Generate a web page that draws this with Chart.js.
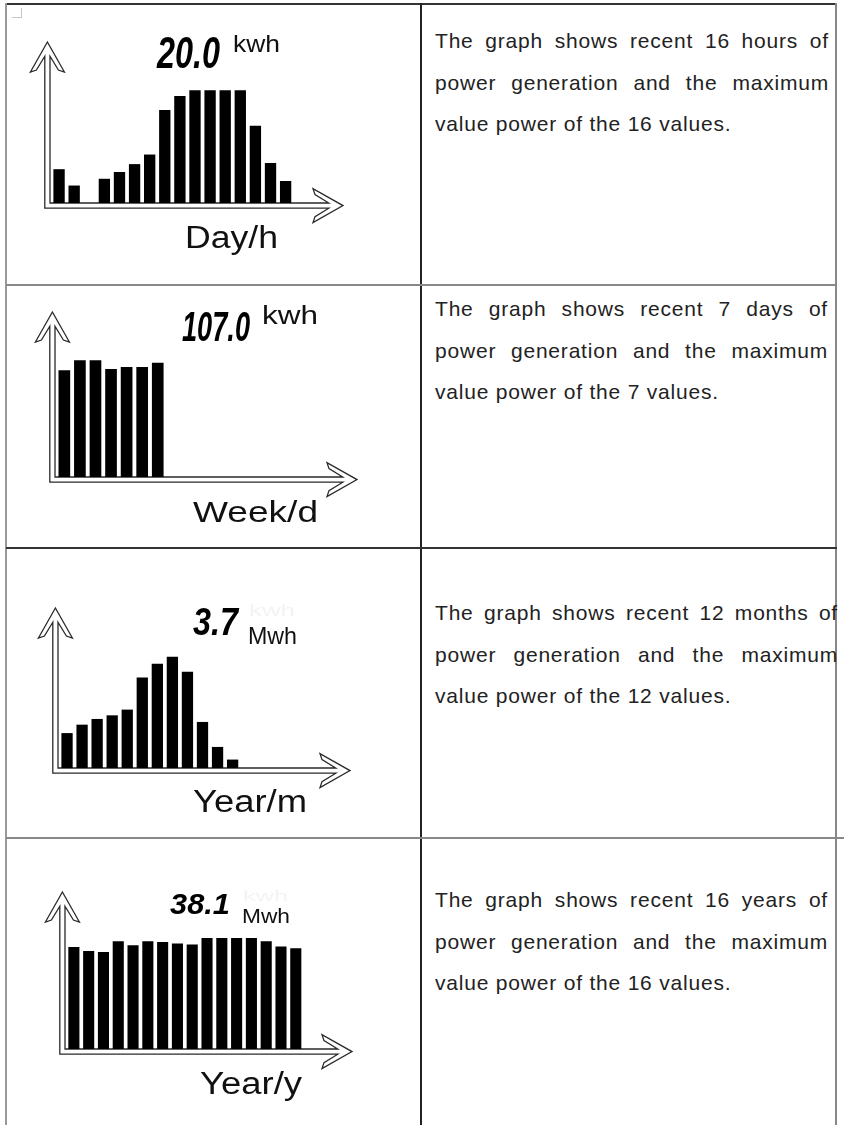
<!DOCTYPE html>
<html>
<head>
<meta charset="utf-8">
<title>Power generation graphs</title>
<script src="https://cdn.jsdelivr.net/npm/chart.js@4.4.1/dist/chart.umd.min.js"></script>
<style>
  html, body { margin: 0; padding: 0; background: #fff; }
  body { position: relative; width: 844px; height: 1125px; overflow: hidden; font-family: "Liberation Sans", Arial, sans-serif; }
  .rule { position: absolute; }
  .t { position: absolute; white-space: nowrap; line-height: 1; transform-origin: 0 0; }
  .note { position: absolute; line-height: 1; color: #222; font-size: 21px; letter-spacing: 0.8px; }
  .note.just { text-align: justify; text-align-last: justify; }
  canvas { position: absolute; }
</style>
</head>
<body>
<!-- table frame -->
<div class="rule" style="left:6px;top:3px;width:831px;height:2px;background:#333"></div>
<div class="rule" style="left:5px;top:3px;width:2px;height:1122px;background:#999"></div>
<div class="rule" style="left:420px;top:3px;width:2px;height:1122px;background:#222"></div>
<div class="rule" style="left:835px;top:3px;width:2px;height:1122px;background:#888"></div>
<div class="rule" style="left:6px;top:284px;width:831px;height:2px;background:#888"></div>
<div class="rule" style="left:6px;top:547px;width:831px;height:2px;background:#333"></div>
<div class="rule" style="left:6px;top:837px;width:838px;height:2px;background:#888"></div>
<div class="rule" style="left:12px;top:8px;width:9px;height:9px;border-right:1px solid #c4c4c4;border-bottom:1px solid #c4c4c4"></div>

<script>
// energy per slot for each graph
const dayValues = [6.0, 3.1, 0, 4.3, 5.5, 6.9, 8.6, 16.5, 19.0, 20.0, 20.0, 20.0, 20.0, 13.7, 7.1, 3.9];
const weekValues = [97.9, 107.0, 107.0, 99.1, 100.9, 100.9, 104.9];
const monthValues = [1.16, 1.44, 1.63, 1.75, 1.94, 3.01, 3.46, 3.70, 3.20, 1.53, 0.70, 0.28];
const yearValues = [35.0, 33.6, 33.3, 37.0, 35.6, 37.0, 36.7, 36.2, 35.9, 38.1, 38.1, 38.1, 38.1, 37.0, 35.2, 34.6];

const axisTitles = ['Day/h', 'Week/d', 'Year/m', 'Year/y'];
const units = ['kwh', 'kwh', 'Mwh', 'Mwh'];
const notes = [
    ['The graph shows recent 16 hours of', 'power generation and the maximum', 'value power of the 16 values.'],
    ['The graph shows recent 7 days of', 'power generation and the maximum', 'value power of the 7 values.'],
    ['The graph shows recent 12 months of', 'power generation and the maximum', 'value power of the 12 values.'],
    ['The graph shows recent 16 years of', 'power generation and the maximum', 'value power of the 16 values.']
];

var SANS = '"Liberation Sans", Arial, sans-serif';

// one entry per table row: canvas box, plot padding and where the texts sit
var panels = [
    { values: dayValues, top: 5, height: 279, pad: { left: 43, right: 77, top: 37, bottom: 81 }, fill: 0.70,
      peak: { x: 157, base: 65, size: 45, w: 63 }, unit: { x: 233, base: 50, size: 24, w: 47 },
      title: { x: 185, base: 246, size: 31, w: 93 }, noteBase: 48, noteW: 394 },
    { values: weekValues, top: 286, height: 261, pad: { left: 48, right: 63, top: 26, bottom: 70 }, fill: 0.707,
      peak: { x: 182, base: 338, size: 43, w: 68 }, unit: { x: 262, base: 322, size: 26, w: 56 },
      title: { x: 193, base: 521, size: 29, w: 125 }, noteBase: 316, noteW: 393 },
    { values: monthValues, top: 549, height: 288, pad: { left: 51, right: 70, top: 59, bottom: 69 }, fill: 0.696,
      peak: { x: 193, base: 633, size: 39, w: 45 }, unit: { x: 248, base: 642, size: 24, w: 49 },
      ghost: { x: 249, base: 615, size: 17, w: 46 },
      title: { x: 193, base: 810, size: 31, w: 114 }, noteBase: 620, noteW: 403 },
    { values: yearValues, top: 839, height: 286, pad: { left: 58, right: 68, top: 53, bottom: 76 }, fill: 0.707,
      peak: { x: 170, base: 913, size: 29, w: 60 }, unit: { x: 242, base: 922, size: 20, w: 48 },
      ghost: { x: 243, base: 900, size: 15, w: 45 },
      title: { x: 200, base: 1092, size: 31, w: 102 }, noteBase: 907, noteW: 393 }
];

// hollow double-line axes with open arrow heads, hugging the plot area
var hollowAxes = {
    id: 'hollowAxes',
    beforeDatasetsDraw: function (chart) {
        var ctx = chart.ctx;
        var a = chart.chartArea;
        var h = 2.6, L = 30, H = 17, k = 6, d = 10;
        var cx = a.left - h, cy = a.bottom + h;
        var xo = a.left - 2 * h, yo = a.bottom + 2 * h;
        var s = (H - k - h) / (H - k);
        var yHead = a.top + L - 2 - s * (L - 2 - d);
        var xHead = a.right - L + 2 + s * (L - 2 - d);

        ctx.save();
        ctx.beginPath();
        ctx.moveTo(cx, a.top);
        ctx.lineTo(cx - H, a.top + L);
        ctx.lineTo(cx - H + k, a.top + L - 2);
        ctx.lineTo(xo, yHead);
        ctx.lineTo(xo, yo);
        ctx.lineTo(xHead, yo);
        ctx.lineTo(a.right - L + 2, cy + H - k);
        ctx.lineTo(a.right - L, cy + H);
        ctx.lineTo(a.right, cy);
        ctx.lineTo(a.right - L, cy - H);
        ctx.lineTo(a.right - L + 2, cy - H + k);
        ctx.lineTo(xHead, a.bottom);
        ctx.lineTo(a.left, a.bottom);
        ctx.lineTo(a.left, yHead);
        ctx.lineTo(cx + H - k, a.top + L - 2);
        ctx.lineTo(cx + H, a.top + L);
        ctx.closePath();
        ctx.fillStyle = '#fff';
        ctx.fill();
        ctx.lineWidth = 1.3;
        ctx.lineJoin = 'miter';
        ctx.strokeStyle = '#2a2a2a';
        ctx.stroke();
        ctx.restore();
    }
};

function addText(str, o) {
    var el = document.createElement('div');
    el.className = 't';
    el.textContent = str;
    el.style.font = (o.style || '') + ' ' + o.size + 'px ' + SANS;
    el.style.left = o.x + 'px';
    el.style.top = (o.base - 0.8465 * o.size) + 'px';
    el.style.color = o.color || '#111';
    document.body.appendChild(el);
    if (o.w) {
        el.style.transform = 'scaleX(' + (o.w / el.getBoundingClientRect().width) + ')';
    }
    return el;
}

function addNote(lines, p) {
    lines.forEach(function (line, i) {
        var el = document.createElement('div');
        el.className = i < lines.length - 1 ? 'note just' : 'note';
        el.textContent = line;
        el.style.left = '435px';
        el.style.width = p.noteW + 'px';
        el.style.top = (p.noteBase + i * 41.5 - 0.8465 * 21) + 'px';
        document.body.appendChild(el);
    });
}

function buildPanel(p, i) {
    var canvas = document.createElement('canvas');
    canvas.width = 413;
    canvas.height = p.height;
    canvas.style.left = '7px';
    canvas.style.top = p.top + 'px';
    document.body.appendChild(canvas);

    var peak = Math.max.apply(null, p.values);

    new Chart(canvas, {
        type: 'bar',
        data: {
            datasets: [{
                data: p.values.map(function (v, n) { return { x: n, y: v }; }),
                backgroundColor: '#000',
                borderWidth: 0,
                barPercentage: 0.75,
                categoryPercentage: 1
            }]
        },
        options: {
            responsive: false,
            animation: false,
            devicePixelRatio: 1,
            layout: { padding: p.pad },
            scales: {
                x: { type: 'linear', display: false, min: -0.6, max: 18.8, offset: false },
                y: { display: false, min: 0, max: peak / p.fill }
            },
            plugins: {
                legend: { display: false },
                tooltip: { enabled: false }
            }
        },
        plugins: [hollowAxes]
    });

    // maximum of the series, shown like the meter display
    addText(peak.toFixed(1), { x: p.peak.x, base: p.peak.base, size: p.peak.size, w: p.peak.w, style: 'italic bold', color: '#000' });
    if (p.ghost) {
        addText('kwh', { x: p.ghost.x, base: p.ghost.base, size: p.ghost.size, w: p.ghost.w, color: '#f3f3f3' });
    }
    addText(units[i], { x: p.unit.x, base: p.unit.base, size: p.unit.size, w: p.unit.w, color: '#111' });
    addText(axisTitles[i], { x: p.title.x, base: p.title.base, size: p.title.size, w: p.title.w, color: '#111' });
    addNote(notes[i], p);
}

document.addEventListener('DOMContentLoaded', function () {
    panels.forEach(buildPanel);
});
</script>
</body>
</html>
